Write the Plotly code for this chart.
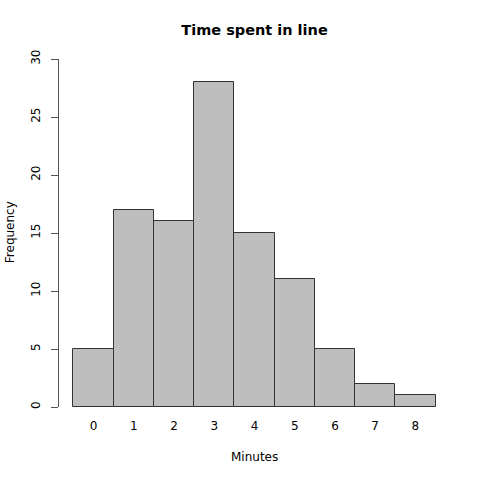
import plotly.graph_objects as go

minutes = [0, 1, 2, 3, 4, 5, 6, 7, 8]
frequency = [5, 17, 16, 28, 15, 11, 5, 2, 1]
y_ticks = [0, 5, 10, 15, 20, 25, 30]

FONT = "DejaVu Sans"
W = H = 480
L = 59
T = 59
R = W - 450
B = H - 406.6
pw = W - L - R
ph = H - T - B

def py(page_y):
    return (H - B - page_y) / ph

def px(page_x):
    return (page_x - L) / pw

fig = go.Figure(go.Bar(
    x=minutes, y=frequency, width=1,
    marker=dict(color="#bebebe", line=dict(color="#333333", width=1)),
))

fig.update_layout(
    width=W, height=H,
    margin=dict(l=L, r=R, t=T, b=B),
    plot_bgcolor="white", paper_bgcolor="white",
    font=dict(family=FONT, size=12, color="black"),
    showlegend=False, bargap=0,
    title=dict(text="<b>Time spent in line</b>", x=0.5, xanchor="center",
               xref="paper",
               y=1 - 30 / H, yanchor="middle", font=dict(size=14.5, family=FONT)),
    xaxis=dict(range=[-0.86, 8.86], tickmode="array", tickvals=minutes,
               ticktext=[str(m) for m in minutes], showgrid=False, zeroline=False,
               showline=False, ticks="outside", ticklen=8, tickcolor="rgba(0,0,0,0)"),
    yaxis=dict(range=[0, 30], tickmode="array", tickvals=y_ticks,
               ticktext=[str(v) for v in y_ticks], showgrid=False, zeroline=False,
               showline=True, linecolor="#555555", linewidth=1,
               ticks="outside", ticklen=7, tickcolor="#555555", tickangle=-90,
               ticklabelstandoff=6),
    annotations=[
        dict(text="Frequency", xref="paper", yref="paper",
             x=px(10), y=py(232), textangle=-90,
             showarrow=False, xanchor="center", yanchor="middle",
             font=dict(size=12, family=FONT)),
        dict(text="Minutes", xref="paper", yref="paper",
             x=px(254), y=py(457),
             showarrow=False, xanchor="center", yanchor="middle",
             font=dict(size=12, family=FONT)),
    ],
)

fig.write_html("out.html",
               config={"displayModeBar": False},
               post_script="document.body.style.margin='0';document.body.style.overflow='hidden';")
